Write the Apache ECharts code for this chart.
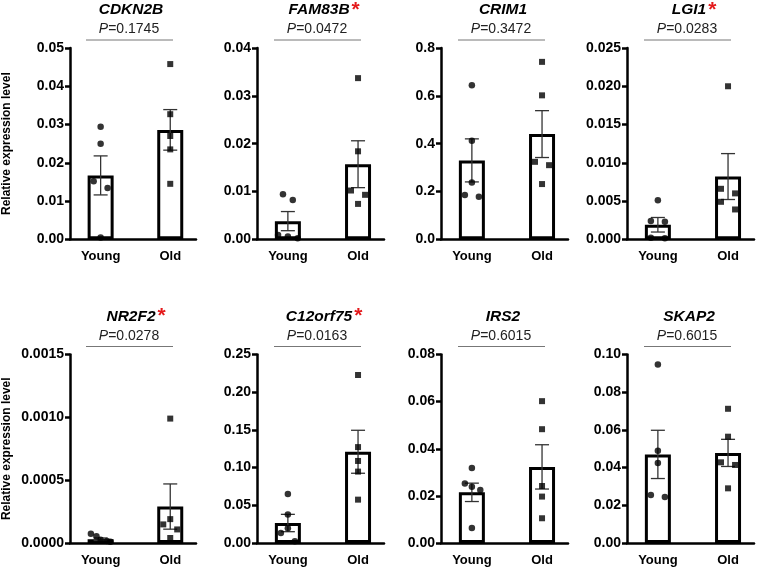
<!DOCTYPE html>
<html>
<head>
<meta charset="utf-8">
<script src="https://cdn.jsdelivr.net/npm/echarts@6/dist/echarts.min.js"></script>
<style>
html,body{margin:0;padding:0;background:#fff;}
#c{width:759px;height:567px;}
</style>
</head>
<body>
<div id="c"></div>
<script>
// ---------- data ----------
const categories = ['Young', 'Old'];
const genes = ['CDKN2B', 'FAM83B', 'CRIM1', 'LGI1', 'NR2F2', 'C12orf75', 'IRS2', 'SKAP2'];
const pValues = ['0.1745', '0.0472', '0.3472', '0.0283', '0.0278', '0.0163', '0.6015', '0.6015'];
const significant = [false, true, false, true, true, true, false, false];
const yMax = [0.05, 0.04, 0.8, 0.025, 0.0015, 0.25, 0.08, 0.10];
const yInterval = [0.01, 0.01, 0.2, 0.005, 0.0005, 0.05, 0.02, 0.02];
const yDecimals = [2, 2, 1, 3, 4, 2, 2, 2];
const barMeans = [
  [0.0167, 0.0286], [0.0038, 0.0157], [0.33, 0.44], [0.0019, 0.0082],
  [0.00003, 0.00029], [0.0265, 0.121], [0.0215, 0.0323], [0.047, 0.0478]
];
const barSem = [
  [0.0051, 0.0053], [0.0020, 0.0049], [0.09, 0.098], [0.00095, 0.0030],
  [0.00001, 0.00018], [0.0115, 0.0285], [0.0039, 0.0094], [0.0128, 0.0072]
];
const youngPoints = [
  [0.0294, 0.025, 0.0152, 0.0134, 0.0005],
  [0.0094, 0.0082, 0.0009, 0.0006, 0.0002],
  [0.644, 0.412, 0.238, 0.185, 0.178],
  [0.0051, 0.0024, 0.0023, 0.0002, 0.00013],
  [0.000074, 0.000053, 0.000026, 0.000016, 0.00001],
  [0.0649, 0.0377, 0.0197, 0.0132, 0.0022],
  [0.0318, 0.0253, 0.0239, 0.0225, 0.0064],
  [0.0947, 0.049, 0.0424, 0.0255, 0.0244]
];
const oldPoints = [
  [0.0458, 0.0327, 0.027, 0.0235, 0.0145],
  [0.0337, 0.0184, 0.0102, 0.0093, 0.0074],
  [0.742, 0.602, 0.324, 0.31, 0.231],
  [0.020, 0.0066, 0.006, 0.0049, 0.0039],
  [0.00099, 0.00019, 0.000148, 0.000108, 0.00004],
  [0.2228, 0.1272, 0.1088, 0.0947, 0.0575],
  [0.0602, 0.0483, 0.0242, 0.0197, 0.0105],
  [0.0712, 0.0564, 0.0428, 0.0414, 0.029]
];
// horizontal scatter of the dots, in category units
const youngJitter = [
  [0, 0, -0.1, 0.1, 0], [-0.07, 0.07, -0.14, 0, 0.14], [0, 0, 0, -0.1, 0.1], [0, -0.1, 0.1, -0.1, 0.1],
  [-0.14, -0.06, 0, 0.09, 0.14], [0, 0, 0, -0.1, 0.1], [0, -0.1, 0, 0.12, 0], [0, 0, 0, -0.1, 0.1]
];
const oldJitter = [
  [0, 0, 0, 0, 0], [0, 0, -0.1, 0.1, 0], [0, 0, -0.1, 0.1, 0], [0, -0.1, 0.1, -0.1, 0.1],
  [0, 0, -0.1, 0.1, 0], [0, 0, 0, 0, 0], [0, 0, 0, 0, 0], [0, 0, -0.1, 0.1, 0]
];

// ---------- layout ----------
const FONT = "'Liberation Sans', Arial, Helvetica, sans-serif";
const colX = [69, 257, 441, 627];
const rowTop = [48, 354.5];
const rowBottom = [239.3, 544.5];
const gridW = 127;

const chart = echarts.init(document.getElementById('c'), null, {renderer: 'canvas'});
const grids = [], xAxes = [], yAxes = [], series = [], graphics = [];

genes.forEach((g, i) => {
  const col = i % 4, row = Math.floor(i / 4);
  const X = colX[col], top = rowTop[row], h = rowBottom[row] - rowTop[row];
  grids.push({left: X, top: top, width: gridW, height: h});
  xAxes.push({
    type: 'value', gridIndex: i, min: 0.56, max: 2.37,
    axisLine: {show: true, onZero: false, lineStyle: {color: '#000', width: 2.5}},
    axisTick: {show: false}, splitLine: {show: false},
    axisLabel: {
      customValues: [1, 2],
      formatter: v => categories[Math.round(v) - 1],
      fontFamily: FONT, fontWeight: 'bold', fontSize: 13, color: '#000', margin: 11
    }
  });
  const ya = {
    type: 'value', gridIndex: i, min: 0, max: yMax[i], interval: yInterval[i],
    axisLine: {show: true, lineStyle: {color: '#000', width: 2.5}},
    axisTick: {show: true, length: 5, lineStyle: {color: '#000', width: 2.5}},
    splitLine: {show: false},
    axisLabel: {
      formatter: v => v.toFixed(yDecimals[i]),
      fontFamily: FONT, fontWeight: 'bold', fontSize: 14, color: '#000', margin: 6
    }
  };
  if (col === 0) {
    ya.name = 'Relative expression level';
    ya.nameLocation = 'middle';
    ya.nameGap = 57;
    ya.nameTextStyle = {fontFamily: FONT, fontWeight: 'bold', fontSize: 12, color: '#000'};
  }
  yAxes.push(ya);

  series.push({
    type: 'bar', xAxisIndex: i, yAxisIndex: i, barWidth: 26, silent: true, z: 2,
    data: categories.map((c, k) => [k + 1, barMeans[i][k]]),
    itemStyle: {color: '#fff', borderColor: '#000', borderWidth: 3}
  });
  series.push({
    type: 'custom', xAxisIndex: i, yAxisIndex: i, silent: true, z: 3, clip: false,
    data: categories.map((c, k) => [k + 1, barMeans[i][k] - barSem[i][k], barMeans[i][k] + barSem[i][k]]),
    encode: {x: 0, y: [1, 2]},
    renderItem: (params, api) => {
      const x = api.value(0);
      const lo = api.coord([x, api.value(1)]);
      const hi = api.coord([x, api.value(2)]);
      const hw = 7;
      const st = {stroke: '#333', lineWidth: 1.3};
      return {type: 'group', children: [
        {type: 'line', shape: {x1: lo[0], y1: lo[1], x2: hi[0], y2: hi[1]}, style: st},
        {type: 'line', shape: {x1: hi[0] - hw, y1: hi[1], x2: hi[0] + hw, y2: hi[1]}, style: st},
        {type: 'line', shape: {x1: lo[0] - hw, y1: lo[1], x2: lo[0] + hw, y2: lo[1]}, style: st}
      ]};
    }
  });
  series.push({
    type: 'scatter', xAxisIndex: i, yAxisIndex: i, silent: true, z: 4,
    symbol: 'circle', symbolSize: 6.5, itemStyle: {color: '#000'},
    data: youngPoints[i].map((v, k) => [1 + youngJitter[i][k], v])
  });
  series.push({
    type: 'scatter', xAxisIndex: i, yAxisIndex: i, silent: true, z: 4,
    symbol: 'rect', symbolSize: 6, itemStyle: {color: '#000'},
    data: oldPoints[i].map((v, k) => [2 + oldJitter[i][k], v])
  });

  // titles
  const cx = X + 62;
  graphics.push({
    type: 'text', x: cx, y: top - 38,
    style: {
      text: significant[i] ? '{h|*}{g|' + g + '}{s|*}' : '{g|' + g + '}',
      align: 'center', verticalAlign: 'middle',
      rich: {
        g: {fontFamily: FONT, fontWeight: 'bold', fontStyle: 'italic', fontSize: 15.5, fill: '#000', color: '#000'},
        s: {fontFamily: FONT, fontWeight: 'bold', fontSize: 21, fill: '#e41a1c', color: '#e41a1c', padding: [0, 0, 0, 2]},
        h: {fontFamily: FONT, fontWeight: 'bold', fontSize: 21, fill: 'rgba(0,0,0,0)', color: 'rgba(0,0,0,0)', padding: [0, 2, 0, 0]}
      }
    }
  });
  graphics.push({
    type: 'text', x: X + 60, y: top - 18.5,
    style: {
      text: '{i|P}{n|=' + pValues[i] + '}',
      align: 'center', verticalAlign: 'middle',
      rich: {
        i: {fontFamily: FONT, fontStyle: 'italic', fontSize: 14, fill: '#222', color: '#222'},
        n: {fontFamily: FONT, fontSize: 14, fill: '#222', color: '#222'}
      }
    }
  });
  graphics.push({
    type: 'line', shape: {x1: X + 17, y1: top - 8, x2: X + 104, y2: top - 8},
    style: {stroke: '#777', lineWidth: 1}
  });
});

chart.setOption({
  animation: false,
  backgroundColor: '#fff',
  grid: grids,
  xAxis: xAxes,
  yAxis: yAxes,
  series: series,
  graphic: graphics
});
</script>
</body>
</html>
